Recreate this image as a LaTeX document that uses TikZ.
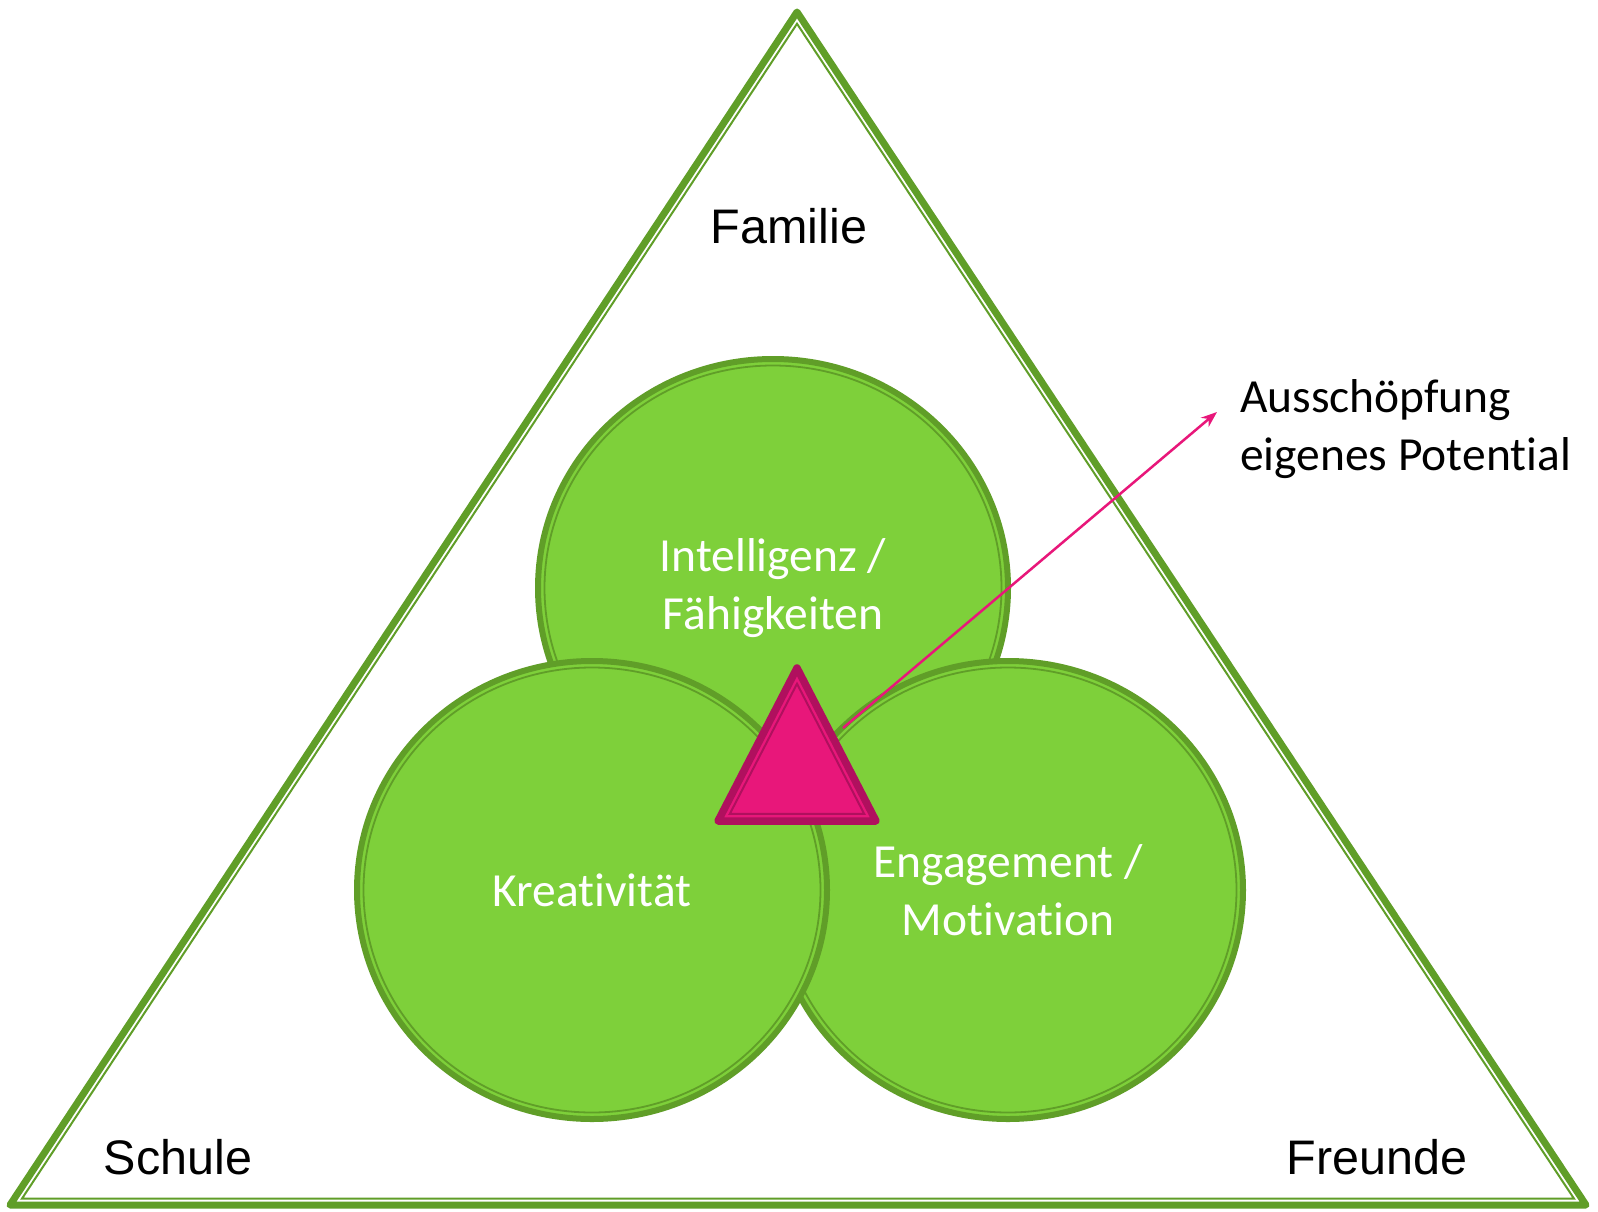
\documentclass[tikz,border=0pt]{standalone}
\usepackage{fontspec}
\setmainfont{Liberation Sans}
\newfontfamily\calibri[Ligatures=NoCommon]{Carlito}
\usepackage{tikz}
\usetikzlibrary{arrows.meta, calc, positioning, shapes.geometric}

\definecolor{gruenfill}{RGB}{126,208,58}
\definecolor{gruenrand}{RGB}{96,158,40}
\definecolor{pinkfill}{RGB}{232,23,122}
\definecolor{pinkrand}{RGB}{176,16,94}

\tikzstyle{kreis}=[ellipse, draw=gruenrand, fill=gruenfill, line width=6pt, inner sep=0pt, minimum width=470pt, minimum height=458pt, text=white, align=center, font=\calibri\fontsize{47.5}{58}\selectfont]
\tikzstyle{ring}=[draw=gruenrand, line width=1.8pt]
\tikzstyle{umfeld}=[inner sep=0pt, font=\fontsize{48.5}{56}\selectfont]
\tikzstyle{hinweis}=[inner sep=0pt, align=left, font=\calibri\fontsize{47.5}{58}\selectfont]

\begin{document}
\begin{tikzpicture}[x=1pt, y=-1pt, >={Stealth[length=16pt, width=12pt]}, line join=round]
      \useasboundingbox (0,0) rectangle (1598,1212);
      \fill[white] (0,0) rectangle (1598,1212);

      % Umfeld
      \coordinate (A) at (797,12);
      \coordinate (B) at (10,1205);
      \coordinate (C) at (1586,1205);
      \coordinate (M) at (797.4,781.1);
      \draw[gruenrand, line width=7pt] (A) -- (B) -- (C) -- cycle;
      \draw[gruenrand, line width=2pt, line join=miter]
            ($(M)!0.9847!(A)$) -- ($(M)!0.9847!(B)$) -- ($(M)!0.9847!(C)$) -- cycle;

      \node[umfeld] (familie) at (789,226) {Familie};
      \node[umfeld] (schule)  at (178,1157) {Schule};
      \node[umfeld] (freunde) at (1377,1157) {Freunde};

      % Kreise
      \node[kreis] (intelligenz) at (773,588) {Intelligenz /\\Fähigkeiten};
      \draw[ring] (intelligenz.center) ellipse [x radius=228.5, y radius=222.5];
      \node[kreis] (engagement) at (1008,890) {Engagement /\\Motivation};
      \draw[ring] (engagement.center) ellipse [x radius=228.5, y radius=222.5];
      \node[kreis] (kreativ) at (592,890) {Kreativität};
      \draw[ring] (kreativ.center) ellipse [x radius=228.5, y radius=222.5];

      % Potential
      \coordinate (P1) at (797,668);
      \coordinate (P2) at (718,821);
      \coordinate (P3) at (876,821);
      \coordinate (PM) at (797,772.9);
      \draw[pinkrand, fill=pinkfill, line width=7.5pt] (P1) -- (P2) -- (P3) -- cycle;
      \draw[pinkrand, line width=2pt, line join=miter]
            ($(PM)!0.85!(P1)$) -- ($(PM)!0.85!(P2)$) -- ($(PM)!0.85!(P3)$) -- cycle;

      \coordinate (pfeilstart) at (843,728);
      \coordinate (pfeilende) at (1217,412);
      \node[hinweis] (potential) [right=23pt of pfeilende, yshift=-17pt] {Ausschöpfung\\eigenes Potential};
      \draw[->, pinkfill, line width=2.5pt] (pfeilstart) -- (pfeilende);
\end{tikzpicture}
\end{document}
